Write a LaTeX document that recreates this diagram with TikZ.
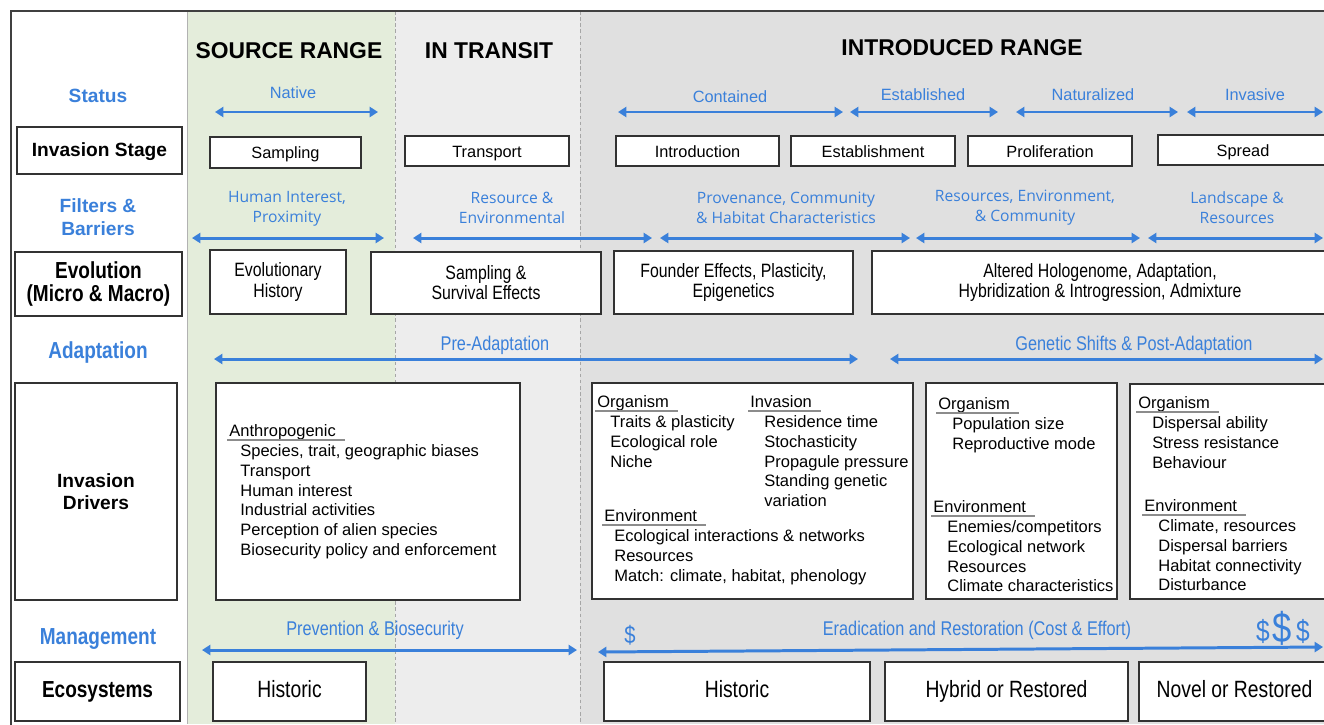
\documentclass[tikz,border=0pt]{standalone}
\usepackage{fontspec}
\setmainfont{Liberation Sans}
\newfontfamily\narrowfont[FakeStretch=0.82]{Liberation Sans}
\newfontfamily\softfont{Open Sans}
\usetikzlibrary{arrows.meta,positioning}
\definecolor{srcgreen}{RGB}{228,237,219}
\definecolor{transitgray}{RGB}{237,237,237}
\definecolor{introgray}{RGB}{224,224,224}
\definecolor{spanblue}{RGB}{58,128,218}
\definecolor{boxline}{RGB}{50,50,50}
\newcommand{\setfs}[2]{\fontsize{#1}{#2}\selectfont}
\tikzset{
    span/.style={spanblue, line width=1.7pt,
        {Triangle[length=4.8pt,width=5.8pt]}-{Triangle[length=4.8pt,width=5.8pt]}},
    title/.style={font=\setfs{13}{15}\bfseries, inner sep=0pt},
    rowlabel/.style={text=spanblue, font=\setfs{10.9}{13}\bfseries, align=center, inner sep=0pt},
    rowlabelnarrow/.style={text=spanblue, font=\narrowfont\setfs{13.2}{15}\bfseries, inner sep=0pt},
    rowbox/.style={draw=boxline, fill=white, line width=0.7pt, align=center, inner sep=0pt},
    oneline/.style={text height=0.72em, text depth=0pt},
    stagebox/.style={draw=boxline, fill=white, line width=0.7pt, inner sep=0pt, oneline,
        minimum height=0.6cm, font=\setfs{9.3}{11}},
    evobox/.style={draw=boxline, fill=white, line width=0.7pt, inner sep=0pt, align=center,
        font=\narrowfont\setfs{11}{11.4}},
    ecobox/.style={draw=boxline, fill=white, line width=0.7pt, inner sep=0pt, oneline,
        minimum height=1.18cm, font=\narrowfont\setfs{13.4}{15}},
    drvbox/.style={draw=boxline, fill=white, line width=0.7pt, inner sep=0pt},
    statuslbl/.style={text=spanblue, font=\setfs{9.3}{11}, inner sep=0pt},
    filterlbl/.style={text=spanblue, font=\softfont\setfs{8.9}{11.3}, align=center, inner sep=0pt},
    spanlbl/.style={text=spanblue, font=\narrowfont\setfs{11.3}{13}, inner sep=0pt},
    dollar/.style={text=spanblue, inner sep=0pt},
    drvhead/.style={anchor=base west, inner sep=0pt, font=\setfs{9.4}{11.3}},
    drvlist/.style={anchor=north west, inner sep=0pt, align=left, font=\setfs{9.4}{11.3}},
    uline/.style={draw=black!45, line width=0.75pt}
}

\begin{document}
\begin{tikzpicture}[x=0.02cm, y=-0.02cm]
\useasboundingbox (0,0) rectangle (1324,724);
\clip (0,0) rectangle (1324,724);

% columns
\fill[srcgreen] (187,11) rectangle (395,724);
\fill[transitgray] (395,11) rectangle (580,724);
\fill[introgray] (580,11) rectangle (1324,724);
\draw[black!30, line width=0.5pt] (187,11) -- (187,724);
\draw[black!35, line width=0.5pt, dash pattern=on 2pt off 1.5pt] (395,11) -- (395,724);
\draw[black!35, line width=0.5pt, dash pattern=on 2pt off 1.5pt] (580,11) -- (580,724);
\draw[black!75, line width=0.8pt] (11,730) -- (11,11) -- (1330,11);

\node[title] (src) at (289,51) {SOURCE RANGE};
\node[title] (trn) at (489,51) {IN TRANSIT};
\node[title] (intro) at (962,48) {INTRODUCED RANGE};

% row headers
\node[rowlabel] (status) at (98,96) {Status};
\node[rowbox, oneline, font=\setfs{10.9}{13}\bfseries, minimum width=3.3cm, minimum height=0.94cm] (stage) at (99.5,150.5) {Invasion Stage};
\node[rowlabel] (filt) at (98,217) {Filters \&\\Barriers};
\node[rowbox, font=\narrowfont\setfs{13.2}{13}\bfseries, minimum width=3.34cm, minimum height=1.28cm] (evo) at (98.5,284) {Evolution\\(Micro \& Macro)};
\node[rowlabelnarrow] (adapt) at (98,352) {Adaptation};
\node[rowbox, font=\setfs{10.9}{12.6}\bfseries, minimum width=3.24cm, minimum height=4.34cm] (drv) at (96,491.5) {Invasion\\Drivers};
\node[rowlabelnarrow] (mgmt) at (98,639) {Management};
\node[rowbox, oneline, font=\narrowfont\setfs{13.2}{15}\bfseries, minimum width=3.3cm, minimum height=1.18cm] (eco) at (97.5,691.5) {Ecosystems};

% status
\coordinate (nat-w) at (215,112); \coordinate (nat-e) at (378,112);
\coordinate (con-w) at (618,112); \coordinate (con-e) at (843,112);
\coordinate (est-w) at (850,112); \coordinate (est-e) at (998,112);
\coordinate (nau-w) at (1016,112); \coordinate (nau-e) at (1178,112);
\coordinate (inv-w) at (1187,112); \coordinate (inv-e) at (1323,112);
\draw[span] (nat-w) -- (nat-e);
\draw[span] (con-w) -- (con-e);
\draw[span] (est-w) -- (est-e);
\draw[span] (nau-w) -- (nau-e);
\draw[span] (inv-w) -- (inv-e);
\node[statuslbl] (native) at (293,93) {Native};
\node[statuslbl] (contained) at (730,97) {Contained};
\node[statuslbl] (established) at (923,95) {Established};
\node[statuslbl] (naturalized) at (1093,95) {Naturalized};
\node[statuslbl] (invasive) at (1255,95) {Invasive};

% invasion stage
\node[stagebox, minimum width=3.02cm, minimum height=0.62cm] (sampling) at (285.5,152.5) {Sampling};
\node[stagebox, minimum width=3.28cm] (transport) at (487,151) {Transport};
\node[stagebox, minimum width=3.26cm] (introduction) at (697.5,151) {Introduction};
\node[stagebox, minimum width=3.28cm] (establishment) at (873,151) {Establishment};
\node[stagebox, minimum width=3.28cm] (proliferation) at (1050,151) {Proliferation};
\node[stagebox, minimum width=3.4cm] (spread) at (1243,150) {Spread};

% filters & barriers
\node[filterlbl] (fhuman) at (287,209) {Human Interest,\\Proximity};
\node[filterlbl] (fresource) at (512,208) {Resource \&\\Environmental};
\node[filterlbl] (fprov) at (786,208) {Provenance, Community\\\& Habitat Characteristics};
\node[filterlbl] (fenv) at (1025,208) {Resources, Environment,\\\& Community};
\node[filterlbl] (fland) at (1237,208) {Landscape \&\\Resources};
\coordinate (f1-w) at (192,238); \coordinate (f1-e) at (384,238);
\coordinate (f2-w) at (413,238); \coordinate (f2-e) at (652,238);
\coordinate (f3-w) at (660,238); \coordinate (f3-e) at (910,238);
\coordinate (f4-w) at (916,238); \coordinate (f4-e) at (1140,238);
\coordinate (f5-w) at (1148,238); \coordinate (f5-e) at (1323,238);
\draw[span] (f1-w) -- (f1-e);
\draw[span] (f2-w) -- (f2-e);
\draw[span] (f3-w) -- (f3-e);
\draw[span] (f4-w) -- (f4-e);
\draw[span] (f5-w) -- (f5-e);

% evolution
\node[evobox, minimum width=2.72cm, minimum height=1.28cm] (evhist) at (278,282) {Evolutionary\\History};
\node[evobox, minimum width=4.6cm, minimum height=1.24cm] (evsamp) at (486,283) {Sampling \&\\Survival Effects};
\node[evobox, minimum width=4.78cm, minimum height=1.26cm] (evfound) at (733.5,282.5) {Founder Effects, Plasticity,\\Epigenetics};
\node[evobox, minimum width=9.12cm, minimum height=1.26cm] (evholo) at (1100,282.5) {Altered Hologenome, Adaptation,\\Hybridization \& Introgression, Admixture};

% adaptation
\node[spanlbl] (preadapt) at (495,345) {Pre-Adaptation};
\node[spanlbl] (postadapt) at (1134,345) {Genetic Shifts \& Post-Adaptation};
\coordinate (pre-w) at (214,359); \coordinate (pre-e) at (858,359);
\coordinate (post-w) at (890,359); \coordinate (post-e) at (1323,359);
\draw[span] (pre-w) -- (pre-e);
\draw[span] (post-w) -- (post-e);

% invasion drivers
\node[drvbox, minimum width=6.08cm, minimum height=4.34cm] (drv1) at (368,491.5) {};
\node[drvbox, minimum width=6.42cm, minimum height=4.32cm] (drv2) at (752.5,491) {};
\node[drvbox, minimum width=3.82cm, minimum height=4.32cm] (drv3) at (1021.5,491) {};
\node[drvbox, minimum width=4.0cm, minimum height=4.3cm] (drv4) at (1230,491.5) {};

\node[drvhead] (anth) at (229,436) {Anthropogenic};
\node[drvlist] (anthlist) at (240,444) {Species, trait, geographic biases\\Transport\\Human interest\\Industrial activities\\Perception of alien species\\Biosecurity policy and enforcement};

\node[drvhead] (org2) at (597,407) {Organism};
\node[drvlist] (org2list) at (610,415) {Traits \& plasticity\\Ecological role\\Niche};
\node[drvhead] (inv2) at (750,407) {Invasion};
\node[drvlist] (inv2list) at (764,415) {Residence time\\Stochasticity\\Propagule pressure\\Standing genetic\\variation};
\node[drvhead] (env2) at (604,521) {Environment};
\node[drvlist] (env2list) at (614,529) {Ecological interactions \& networks\\Resources\\Match: climate, habitat, phenology};

\node[drvhead] (org3) at (938,409) {Organism};
\node[drvlist] (org3list) at (952,417) {Population size\\Reproductive mode};
\node[drvhead] (env3) at (933,512) {Environment};
\node[drvlist] (env3list) at (947,520) {Enemies/competitors\\Ecological network\\Resources\\Climate characteristics};

\node[drvhead] (org4) at (1138,408) {Organism};
\node[drvlist] (org4list) at (1152,416) {Dispersal ability\\Stress resistance\\Behaviour};
\node[drvhead] (env4) at (1144,511) {Environment};
\node[drvlist] (env4list) at (1158,519) {Climate, resources\\Dispersal barriers\\Habitat connectivity\\Disturbance};

\foreach \h in {anth,org2,inv2,env2,org3,env3,org4,env4}
    \draw[uline] ([shift={(-2,4)}]\h.base west) -- ([shift={(9,4)}]\h.base east);

% management
\node[spanlbl] (prevent) at (375,630) {Prevention \& Biosecurity};
\node[spanlbl] (eradic) at (977,630) {Eradication and Restoration (Cost \& Effort)};
\node[dollar, font=\narrowfont\setfs{14}{16}] (cheap) at (630,635) {\$};
\node[dollar, font=\narrowfont\setfs{17}{19}] (dear1) at (1263,631) {\$};
\node[dollar, font=\narrowfont\setfs{24}{26}] (dear2) at (1282,628) {\$};
\node[dollar, font=\narrowfont\setfs{17}{19}] (dear3) at (1303,631) {\$};
\coordinate (prev-w) at (202,650); \coordinate (prev-e) at (577,650);
\coordinate (erad-w) at (598,652); \coordinate (erad-e) at (1323,647);
\draw[span] (prev-w) -- (prev-e);
\draw[span] (erad-w) -- (erad-e);

% ecosystems
\node[ecobox, minimum width=3.06cm] (ecohist1) at (289.5,691.5) {Historic};
\node[ecobox, minimum width=5.32cm] (ecohist2) at (737,691.5) {Historic};
\node[ecobox, minimum width=4.86cm] (ecohyb) at (1006.5,691.5) {Hybrid or Restored};
\node[ecobox, minimum width=3.82cm] (econov) at (1234.5,691.5) {Novel or Restored};
\end{tikzpicture}
\end{document}
